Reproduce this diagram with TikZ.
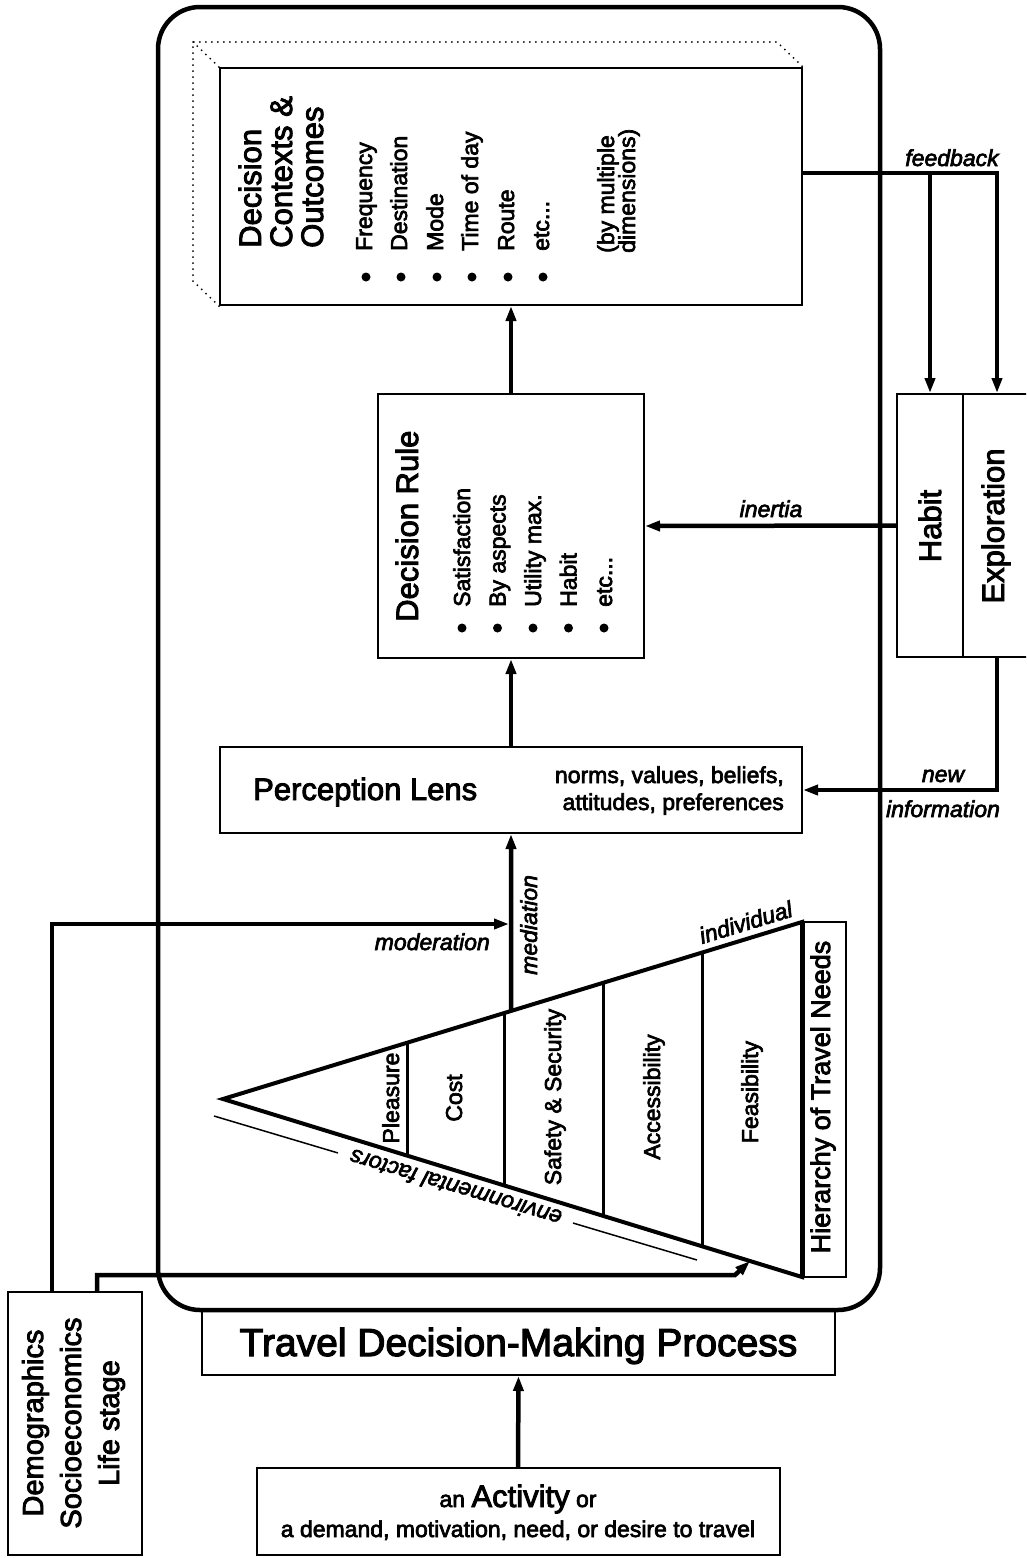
\documentclass[tikz,border=0pt]{standalone}
\usepackage{fontspec}
\setmainfont{Liberation Sans}[FakeBold=3]
\usetikzlibrary{arrows.meta,calc}
\newcommand\etcdots{etc...}

\begin{document}
\begin{tikzpicture}[x=1pt,y=-1pt,
  outerframe/.style={draw, line width=4.5pt, rounded corners=42pt, inner sep=0pt},
  tbox/.style={draw, line width=2pt, inner sep=0pt},
  conn/.style={line width=4.5pt},
  arr/.style={conn, -{Triangle[length=15pt,width=10pt]}},
  ttitle/.style={inner sep=0pt, font=\fontsize{31}{36}\selectfont},
  titem/.style={inner sep=0pt, font=\fontsize{23}{27}\selectfont},
  tlab/.style={inner sep=0pt, font=\fontsize{23}{27}\selectfont\itshape},
  vert/.style={rotate=90},
  dotline/.style={line width=2pt, line cap=round, dash pattern=on 0pt off 6pt},
  divider/.style={line width=3pt}
]
\useasboundingbox (0,0) rectangle (1026,1558);
\clip (0,0) rectangle (1026,1558);

% ---------- outer process frame and boxes ----------
\node[outerframe, minimum width=722pt, minimum height=1303pt] (frame) at (519,658.5) {};
\node[tbox, minimum width=582pt, minimum height=237pt] (dc) at (511,186.5) {};
\node[tbox, minimum width=266pt, minimum height=264pt] (dr) at (511,526) {};
\node[tbox, minimum width=582pt, minimum height=86pt] (pl) at (511,790) {};
\node[tbox, minimum width=66pt, minimum height=263pt] (habit) at (930,525.5) {};
\node[tbox, minimum width=68pt, minimum height=263pt] (explor) at (997,525.5) {};
\node[tbox, minimum width=44pt, minimum height=355pt] (htn) at (824,1099.5) {};
\node[tbox, minimum width=633pt, minimum height=65pt] (tdmp) at (518.5,1342.5) {};
\node[tbox, minimum width=523pt, minimum height=87pt] (act) at (518,1511.5) {};
\node[tbox, minimum width=134pt, minimum height=263pt] (demo) at (75,1423.5) {};

% stacked (dotted) layers behind the outcomes box
\draw[dotline] (dc.south west) -- ++(-26,-25) -- ($(dc.north west)+(-26,-25)$)
  -- ($(dc.north east)+(-26,-25)$) -- (dc.north east);
\draw[dotline] ($(dc.north west)+(-26,-25)$) -- (dc.north west);

% ---------- Decision Contexts & Outcomes ----------
\node[ttitle, vert, anchor=base west] (dct1) at (261,248) {Decision};
\node[ttitle, vert, anchor=base west] (dct2) at (292,248) {Contexts \&};
\node[ttitle, vert, anchor=base west] (dct3) at (323,248) {Outcomes};
\foreach \b/\t [count=\k] in {372/Frequency, 407/Destination, 443/Mode, 478/Time of day, 514/Route, 549/\etcdots}{
  \node[titem, vert, anchor=base west] (dci\k) at (\b,251) {\t};
  \fill ($(\b,277)+(-6,0)$) circle (4.5pt);
}
\node[titem, vert, anchor=base west] (dcn1) at (614,253) {(by multiple};
\node[titem, vert, anchor=base west] (dcn2) at (635,253) {dimensions)};

% ---------- Decision Rule ----------
\node[ttitle, vert, anchor=base west] (drt) at (418,622) {Decision Rule};
\foreach \b/\t [count=\k] in {470/Satisfaction, 505.5/By aspects, 541/Utility max., 576.5/Habit, 612/\etcdots}{
  \node[titem, vert, anchor=base west] (dri\k) at (\b,607) {\t};
  \fill ($(\b,628)+(-8,0)$) circle (4.5pt);
}

% ---------- Perception Lens ----------
\node[ttitle, anchor=base west] (plt) at (253,800) {Perception Lens};
\node[titem, anchor=base east] (pl1) at (784,783) {norms, values, beliefs,};
\node[titem, anchor=base east] (pl2) at (784,810) {attitudes, preferences};

% ---------- Habit / Exploration ----------
\node[ttitle, vert, anchor=base] (habt) at (941,526) {Habit};
\node[ttitle, vert, anchor=base] (expt) at (1004,526) {Exploration};

% ---------- Hierarchy of travel needs (triangle) ----------
\coordinate (apex) at (223,1099);
\coordinate (tr) at (802,922);
\coordinate (br) at (802,1277);
\draw[line width=4pt, line join=miter] (apex) -- (tr) -- (br) -- cycle;
\draw[line width=5pt] (tr) -- (br);
\foreach \t in {0.3178,0.4870,0.6580,0.8290}{
  \draw[divider] ($(apex)!\t!(tr)$) -- ($(apex)!\t!(br)$);
}
\node[titem, vert, anchor=base] (tp) at (399,1098) {Pleasure};
\node[titem, vert, anchor=base] (tc) at (462,1098) {Cost};
\node[titem, vert, anchor=base] (ts) at (561,1097) {Safety \& Security};
\node[titem, vert, anchor=base] (ta) at (660,1097) {Accessibility};
\node[titem, vert, anchor=base] (tf) at (758,1092) {Feasibility};
\node[inner sep=0pt, font=\fontsize{27}{32}\selectfont, vert, anchor=base] (htnt) at (830,1097) {Hierarchy of Travel Needs};
\node[tlab, rotate=16.9, anchor=base west] (indl) at (702,944) {individual};

% environmental factors line beneath the triangle
\coordinate (e0) at (214,1116);
\coordinate (e1) at (697,1260);
\draw[line width=1.5pt] (e0) -- ($(e0)!0.2567!(e1)$);
\draw[line width=1.5pt] ($(e0)!0.7433!(e1)$) -- (e1);
\node[tlab, rotate=163.4] (envl) at ($(e0)!0.5!(e1)$) {environmental factors};

% ---------- Demographics ----------
\node[inner sep=0pt, font=\fontsize{29}{34}\selectfont, vert, anchor=base] (dm1) at (43,1423) {Demographics};
\node[inner sep=0pt, font=\fontsize{29}{34}\selectfont, vert, anchor=base] (dm2) at (81,1423) {Socioeconomics};
\node[inner sep=0pt, font=\fontsize{29}{34}\selectfont, vert, anchor=base] (dm3) at (119,1423) {Life stage};

% ---------- Process title and activity ----------
\node[inner sep=0pt, font=\fontsize{39}{44}\selectfont, anchor=base] (tdmpt) at (518.5,1356) {Travel Decision-Making Process};
\node[titem, anchor=base] (act1) at (518,1507) {an {\fontsize{31}{36}\selectfont Activity} or};
\node[titem, anchor=base] (act2) at (518,1537) {a demand, motivation, need, or desire to travel};

% ---------- connectors ----------
\draw[arr] (act.north) -- (tdmp.south);
\draw[arr] (pl.north) -- (dr.south);
\draw[arr] (dr.north) -- (dc.south);

\coordinate (med) at ($(apex)!0.4974!(tr)$);
\draw[arr] (med) -- (pl.south);

\coordinate (modc) at (52,924);
\draw[arr, shorten >=2pt] (demo.north -| modc) -- (modc) -- (med |- modc);

\coordinate (envc) at (97,1275);
\coordinate (envb) at (735,1275);
\draw[arr] (demo.north -| envc) -- (envc) -- (envb) -- ($(apex)!0.9102!(br)$);

\coordinate (fb) at (997,173);
\draw[arr] (dc.east |- fb) -- (fb) -- (explor.north);
\draw[arr] (habit.north |- fb) -- (habit.north);
\draw[arr] (habit.west) -- (dr.east);

\coordinate (ni) at (997,790);
\draw[arr] (explor.south) -- (ni) -- (pl.east |- ni);

% ---------- connector labels ----------
\node[tlab, anchor=base] (fbl) at (952,166) {feedback};
\node[tlab, anchor=base] (inl) at (771,517) {inertia};
\node[tlab, anchor=base] (nil1) at (943,782) {new};
\node[tlab, anchor=base] (nil2) at (943,817) {information};
\node[tlab, anchor=base east] (modl) at (490,950) {moderation};
\node[tlab, vert, anchor=base west] (medl) at (537,975) {mediation};
\end{tikzpicture}
\end{document}
